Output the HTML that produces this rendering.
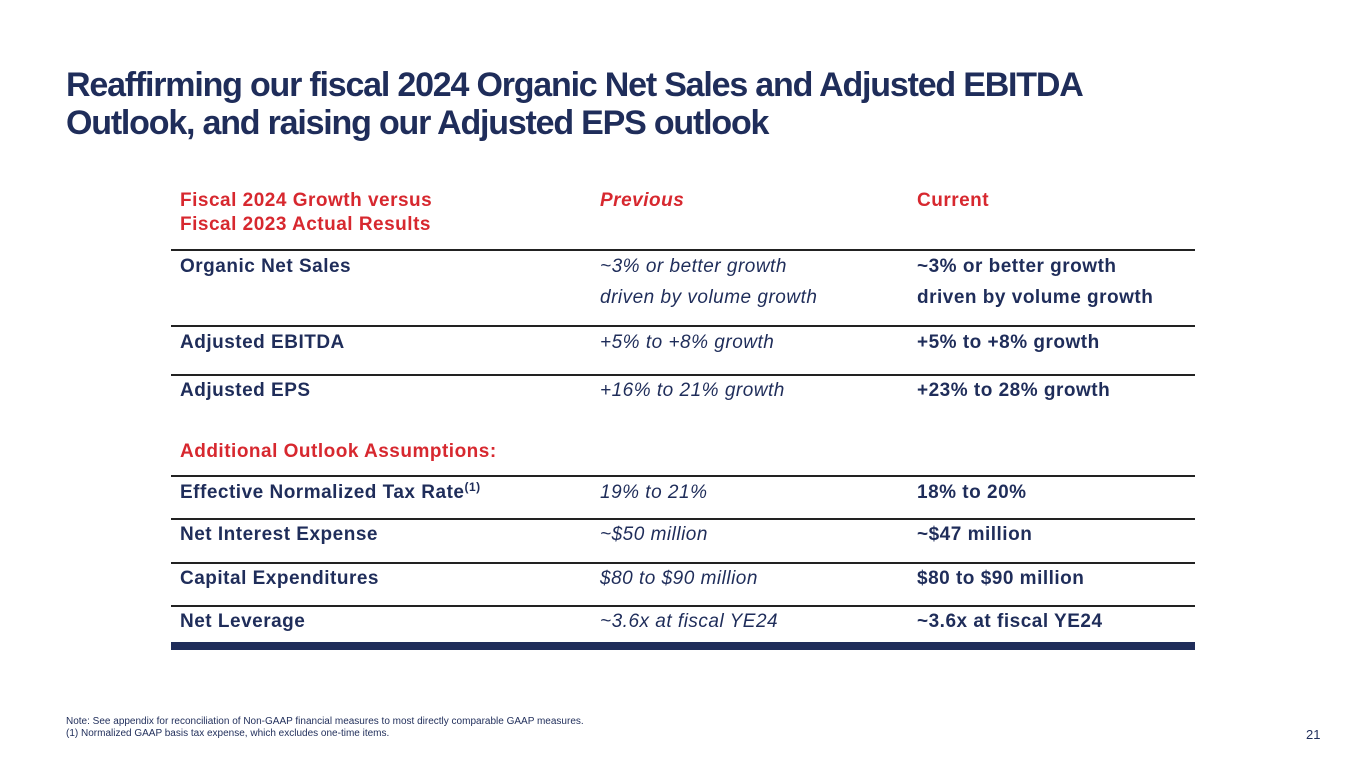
<!DOCTYPE html>
<html><head><meta charset="utf-8"><style>
body{margin:0;width:1365px;height:768px;background:#fff;position:relative;overflow:hidden;font-family:"Liberation Sans",sans-serif;color:#1f2d5a}
.t{position:absolute;white-space:nowrap;line-height:1}
h1{position:absolute;left:66px;top:66px;margin:0;font-size:34px;line-height:38px;font-weight:bold;letter-spacing:-1.2px;color:#1f2d5a}
.b{font-weight:bold;font-size:19px;letter-spacing:0.5px}
.i{font-style:italic;font-size:19px;letter-spacing:0.5px}
.r{color:#d7282f}
.ln{position:absolute;left:171px;width:1024px;height:1.5px;background:#222}
sup{font-size:12px;line-height:0;vertical-align:7px}
</style></head><body>
<h1>Reaffirming our fiscal 2024 Organic Net Sales and Adjusted EBITDA<br>Outlook, and raising our Adjusted EPS outlook</h1>
<div class="t b r" style="left:180px;top:191px">Fiscal 2024 Growth versus</div>
<div class="t b r" style="left:180px;top:215px">Fiscal 2023 Actual Results</div>
<div class="t b i r" style="left:600px;top:191px">Previous</div>
<div class="t b r" style="left:917px;top:191px">Current</div>
<div class="ln" style="top:249px"></div>
<div class="t b" style="left:180px;top:257px">Organic Net Sales</div>
<div class="t i" style="left:600px;top:257px">~3% or better growth</div>
<div class="t i" style="left:600px;top:288px">driven by volume growth</div>
<div class="t b" style="left:917px;top:257px">~3% or better growth</div>
<div class="t b" style="left:917px;top:288px">driven by volume growth</div>
<div class="ln" style="top:325px"></div>
<div class="t b" style="left:180px;top:333px">Adjusted EBITDA</div>
<div class="t i" style="left:600px;top:333px">+5% to +8% growth</div>
<div class="t b" style="left:917px;top:333px">+5% to +8% growth</div>
<div class="ln" style="top:374px"></div>
<div class="t b" style="left:180px;top:381px">Adjusted EPS</div>
<div class="t i" style="left:600px;top:381px">+16% to 21% growth</div>
<div class="t b" style="left:917px;top:381px">+23% to 28% growth</div>
<div class="t b r" style="left:180px;top:442px">Additional Outlook Assumptions:</div>
<div class="ln" style="top:475px"></div>
<div class="t b" style="left:180px;top:483px">Effective Normalized Tax Rate<sup>(1)</sup></div>
<div class="t i" style="left:600px;top:483px">19% to 21%</div>
<div class="t b" style="left:917px;top:483px">18% to 20%</div>
<div class="ln" style="top:518px"></div>
<div class="t b" style="left:180px;top:525px">Net Interest Expense</div>
<div class="t i" style="left:600px;top:525px">~$50 million</div>
<div class="t b" style="left:917px;top:525px">~$47 million</div>
<div class="ln" style="top:562px"></div>
<div class="t b" style="left:180px;top:569px">Capital Expenditures</div>
<div class="t i" style="left:600px;top:569px">$80 to $90 million</div>
<div class="t b" style="left:917px;top:569px">$80 to $90 million</div>
<div class="ln" style="top:605px"></div>
<div class="t b" style="left:180px;top:612px">Net Leverage</div>
<div class="t i" style="left:600px;top:612px">~3.6x at fiscal YE24</div>
<div class="t b" style="left:917px;top:612px">~3.6x at fiscal YE24</div>
<div style="position:absolute;left:171px;top:642px;width:1024px;height:8px;background:#1f2d5a"></div>
<div class="t" style="left:66px;top:716px;font-size:10px;line-height:12px;color:#1f2d5a">Note: See appendix for reconciliation of Non-GAAP financial measures to most directly comparable GAAP measures.<br>(1) Normalized GAAP basis tax expense, which excludes one-time items.</div>
<div class="t" style="left:1306px;top:728px;font-size:13px;color:#1f2d5a">21</div>
</body></html>
